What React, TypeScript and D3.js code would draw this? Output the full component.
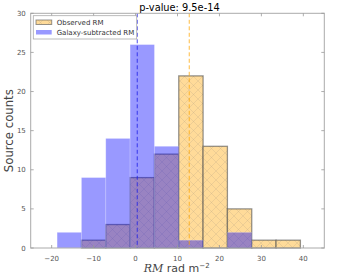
import React from "react";
import * as d3 from "d3";

const binEdges = [-18.7, -12.9, -7.1, -1.3, 4.5, 10.3, 16.1, 21.9, 27.7, 33.5, 39.3];
const observedCounts = [0, 1, 3, 9, 12, 22, 13, 5, 1, 1];
const galaxySubCounts = [2, 9, 14, 26, 13, 1, 0, 2, 0, 0];
const meanLines = [0.4, 12.8];
const xTicks = [-20, -10, 0, 10, 20, 30, 40];
const yTicks = [0, 5, 10, 15, 20, 25, 30];
const legendLabels = ["Observed RM", "Galaxy-subtracted RM"];
const titleText = "p-value: 9.5e-14";

const W = 362, H = 278;
const L = 30.7, R = 324.3, T = 13.3, B = 248;
const font = "DejaVu Sans, sans-serif";

export default function App() {
  const x = d3.scaleLinear().domain([-25, 45]).range([L, R]);
  const y = d3.scaleLinear().domain([0, 30]).range([B, T]);
  const fmt = (v: number) => (v < 0 ? "\u2212" + Math.abs(v) : String(v));
  const orangeFill = "rgb(255,219,153)";
  const blueFill = "rgba(0,0,255,0.4)";
  const tickCol = "#999";
  const labelCol = "#555";

  const bars = (counts: number[]) =>
    counts
      .map((c, i) => ({ c, x0: binEdges[i], x1: binEdges[i + 1] }))
      .filter((d) => d.c > 0);

  return (
    <svg width={W} height={H} style={{ position: "absolute", left: 0, top: 0, background: "#fff" }}>
      <defs>
        <pattern id="hatch" width="9" height="9" patternUnits="userSpaceOnUse">
          <path d="M0,0 L9,9 M9,0 L0,9" stroke="rgba(150,140,120,0.22)" strokeWidth="0.8" />
        </pattern>
      </defs>
      <rect x={0} y={0} width={W} height={H} fill="#fff" />
      {/* observed */}
      {bars(observedCounts).map((d, i) => (
        <g key={"o" + i}>
          <rect x={x(d.x0)} y={y(d.c)} width={x(d.x1) - x(d.x0)} height={B - y(d.c)} fill={orangeFill} />
          <rect x={x(d.x0)} y={y(d.c)} width={x(d.x1) - x(d.x0)} height={B - y(d.c)} fill="url(#hatch)" />
          <rect x={x(d.x0)} y={y(d.c)} width={x(d.x1) - x(d.x0)} height={B - y(d.c)} fill="none" stroke="rgba(80,80,80,0.6)" strokeWidth={1.3} />
        </g>
      ))}
      {/* galaxy subtracted */}
      {bars(galaxySubCounts).map((d, i) => (
        <rect key={"g" + i} x={x(d.x0)} y={y(d.c)} width={x(d.x1) - x(d.x0)} height={B - y(d.c)} fill={blueFill} stroke="rgba(255,255,255,0.25)" strokeWidth={0.8} />
      ))}
      {/* mean lines */}
      <line x1={x(meanLines[0])} x2={x(meanLines[0])} y1={T} y2={B} stroke="rgba(30,30,230,0.8)" strokeWidth={1} strokeDasharray="4,2.5" />
      <line x1={x(meanLines[1])} x2={x(meanLines[1])} y1={T} y2={B} stroke="rgba(255,165,0,0.75)" strokeWidth={1} strokeDasharray="4,2.5" />
      {/* spines */}
      <rect x={L} y={T} width={R - L} height={B - T} fill="none" stroke="#aaa" strokeWidth={1} />
      {/* ticks */}
      {xTicks.map((t) => (
        <g key={"xt" + t}>
          <line x1={x(t)} x2={x(t)} y1={B} y2={B - 3} stroke={tickCol} strokeWidth={0.8} />
          <line x1={x(t)} x2={x(t)} y1={T} y2={T + 3} stroke={tickCol} strokeWidth={0.8} />
          <text x={x(t)} y={260.5} fontSize={7} fill={labelCol} textAnchor="middle" fontFamily={font}>{fmt(t)}</text>
        </g>
      ))}
      {yTicks.map((t) => (
        <g key={"yt" + t}>
          <line x1={L} x2={L + 3} y1={y(t)} y2={y(t)} stroke={tickCol} strokeWidth={0.8} />
          <line x1={R} x2={R - 3} y1={y(t)} y2={y(t)} stroke={tickCol} strokeWidth={0.8} />
          <text x={25.8} y={y(t) + 2.5} fontSize={7} fill={labelCol} textAnchor="end" fontFamily={font}>{fmt(t)}</text>
        </g>
      ))}
      {/* legend */}
      <rect x={33.3} y={15.7} width={103.4} height={23.3} fill="#fff" stroke="#aaa" strokeWidth={0.8} />
      <rect x={36} y={20} width={15.7} height={4.5} fill={orangeFill} stroke="rgba(80,80,80,0.6)" strokeWidth={1} />
      <rect x={36} y={20} width={15.7} height={4.5} fill="url(#hatch)" />
      <rect x={36} y={30} width={15.7} height={4.5} fill={blueFill} />
      <text x={56.7} y={25} fontSize={7} fill="#333" fontFamily={font}>{legendLabels[0]}</text>
      <text x={56.7} y={35.3} fontSize={7} fill="#333" fontFamily={font}>{legendLabels[1]}</text>
      {/* title */}
      <text x={179.5} y={11} fontSize={9.8} fill="#000" textAnchor="middle" fontFamily={font}>{titleText}</text>
      {/* labels */}
      <text transform={`translate(13.3,130.7) rotate(-90)`} fontSize={11.7} fill="#444" textAnchor="middle" fontFamily={font}>Source counts</text>
      <text x={176.7} y={272} fontSize={11} fill="#444" textAnchor="middle" fontFamily={font}>
        <tspan fontFamily="DejaVu Serif, serif" fontStyle="italic">RM</tspan>
        <tspan> rad m</tspan>
        <tspan fontSize={7} dy={-4}>{"\u22122"}</tspan>
      </text>
    </svg>
  );
}
